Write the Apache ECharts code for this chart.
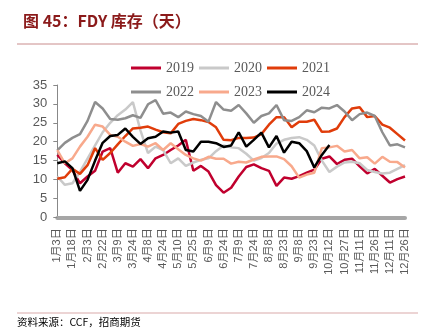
<!DOCTYPE html>
<html>
<head>
<meta charset="utf-8">
<script src="https://cdn.jsdelivr.net/npm/echarts@6/dist/echarts.min.js"></script>
<style>html,body{margin:0;padding:0;background:#fff;}#c{width:430px;height:335px;}</style>
</head>
<body>
<div id="c"></div>
<script>
// Tick labels (every other data point is labelled)
var tickLabels = ['1月3日','1月18日','2月3日','2月22日','3月9日','3月24日','4月8日','4月24日','5月10日','5月25日','6月9日','6月24日','7月9日','7月24日','8月8日','8月23日','9月8日','9月23日','10月12日','10月27日','11月11日','11月26日','12月11日','12月26日'];
var yTicks = [0, 5, 10, 15, 20, 25, 30, 35];
var seriesNames = ['2019','2020','2021','2022','2023','2024'];

var v2019 = [16.5,14.3,12.5,9,10.8,12.3,17.4,18.3,11.8,14.3,13.4,15.4,13,15.6,16.5,17.8,19,20.5,12.3,13.6,12.1,8.5,6.5,7.8,10.8,13.3,14,13,12.3,8.3,10.5,10.2,10.9,11.8,12.6,15.5,16.1,14.1,15.2,15.5,13.5,11.6,12.8,11,9.2,10.1,10.8];
var v2020 = [10.8,8.6,9,12,15.5,19,22.5,25,27,28.5,30.5,23,17,18.7,17.8,14.3,15.6,13.6,14.5,15.2,15.6,17.5,19,18.5,18.3,16.8,15,15.7,17,19.5,20.5,21,21.2,20.5,19,15,12,13.4,14.5,14.7,14.3,12.5,12,11.6,11.8,12.8,13.8];
var v2021 = [10.2,10.6,12.8,11.5,13.8,18.3,15.2,17,19.3,21.5,23.5,23.7,24,23.2,22.5,22.2,24.7,25.5,26,25.7,25.2,23.8,20.5,20.4,21,21,21.1,22,24.5,26.5,26.5,23.8,25.3,25.3,25.8,22.6,22.7,23.5,26.5,28.8,29.1,26.5,26.8,24.5,23.7,22,20.3];
var v2022 = [17.7,19.7,21,22,25.5,30.5,28.8,26,25.8,26.2,27,26.3,29.9,31,27.4,27.7,26.5,28,27.3,26.8,25.3,30.5,28.5,28.2,29.7,27.5,25,26.8,27.5,29.7,25.7,25.5,26.5,28.3,27.8,29,28.8,29.7,28,25.7,27.3,27.7,26.8,22.5,19,19.3,18.5];
var v2023 = [17.8,14.3,15.6,18.7,21.3,24.5,24,21.8,21.3,20,18.9,19.4,18.7,19.6,17.8,19.6,18,16.5,15.6,15,16,15.5,15.5,14.2,14.7,14.5,15.3,16,16.1,16.1,15.4,13.5,10.5,11.3,11.8,18.3,18.5,18.9,17.4,17.8,15.6,15.9,14.2,16,14.7,14.6,13.2];
var v2024 = [14.3,14.8,13,7,9.9,15,19.7,21.5,21.8,23.5,21.3,19.4,20.9,21.3,22.7,22.4,22.7,17.8,17.4,20,20,19.6,18.6,19,22.5,18.7,20.5,22.4,18.5,21.5,17.1,20,19.6,17.5,13.2,16.5,19.1];

var colors = ['#C0002E','#C9C9C9','#E03C0A','#8E8E8E','#F8A98C','#000000'];
var values = [v2019, v2020, v2021, v2022, v2023, v2024];

// category slots: labelled points and the unlabelled points between them
var categories = [];
for (var i = 0; i < tickLabels.length * 2 - 1; i++) categories.push(String(i));

var chart = echarts.init(document.getElementById('c'), null, {renderer: 'canvas'});
var series = seriesNames.map(function (n, k) {
  return {
    name: n, type: 'line', data: values[k], symbol: 'none', smooth: false,
    lineStyle: {width: 2.5, color: colors[k]}, itemStyle: {color: colors[k]},
    animation: false
  };
});
var legendText = {fontFamily: 'Liberation Serif', fontSize: 14, color: '#595959'};
chart.setOption({
  animation: false,
  title: {
    text: '图 45：FDY 库存（天）', left: 18, top: 8,
    textStyle: {fontFamily: 'Noto Sans CJK SC', fontSize: 16, fontWeight: 'bold', color: '#8B1A1A'}
  },
  legend: [
    {data: ['2019','2020','2021'], left: 126, top: 56, icon: 'rect', itemWidth: 30, itemHeight: 3, itemGap: 5, textStyle: legendText},
    {data: ['2022','2023','2024'], left: 126, top: 80, icon: 'rect', itemWidth: 30, itemHeight: 3, itemGap: 5, textStyle: legendText}
  ],
  grid: {left: 57.3, right: 25, top: 85, bottom: 117.7, containLabel: false},
  xAxis: {
    type: 'category', data: categories, boundaryGap: false,
    axisLine: {lineStyle: {color: '#A6A6A6', width: 4}},
    axisTick: {show: false},
    axisLabel: {
      interval: 0, rotate: 90, margin: 11, fontSize: 11, color: '#595959',
      fontFamily: 'Liberation Sans, Noto Sans CJK SC',
      formatter: function (v, idx) { return idx % 2 === 0 ? tickLabels[idx / 2] : ''; }
    },
    splitLine: {show: false}
  },
  yAxis: {
    type: 'value', min: yTicks[0], max: yTicks[yTicks.length - 1], interval: 5,
    axisLine: {show: true, lineStyle: {color: '#888888', width: 1}},
    axisTick: {show: true, length: 4, lineStyle: {color: '#888888'}},
    axisLabel: {fontSize: 13, color: '#595959', fontFamily: 'Liberation Sans', margin: 10},
    splitLine: {show: false}
  },
  graphic: [
    {type: 'line', shape: {x1: 17, y1: 44, x2: 418, y2: 44}, style: {stroke: '#C98C8C', lineWidth: 1}},
    {type: 'line', shape: {x1: 17, y1: 313, x2: 418, y2: 313}, style: {stroke: '#D9A9A9', lineWidth: 1}},
    {type: 'text', left: 17, top: 317, style: {text: '资料来源：CCF，招商期货', fontSize: 10.5, fill: '#000', fontFamily: 'Noto Sans CJK SC'}}
  ],
  series: series
});
</script>
</body>
</html>
